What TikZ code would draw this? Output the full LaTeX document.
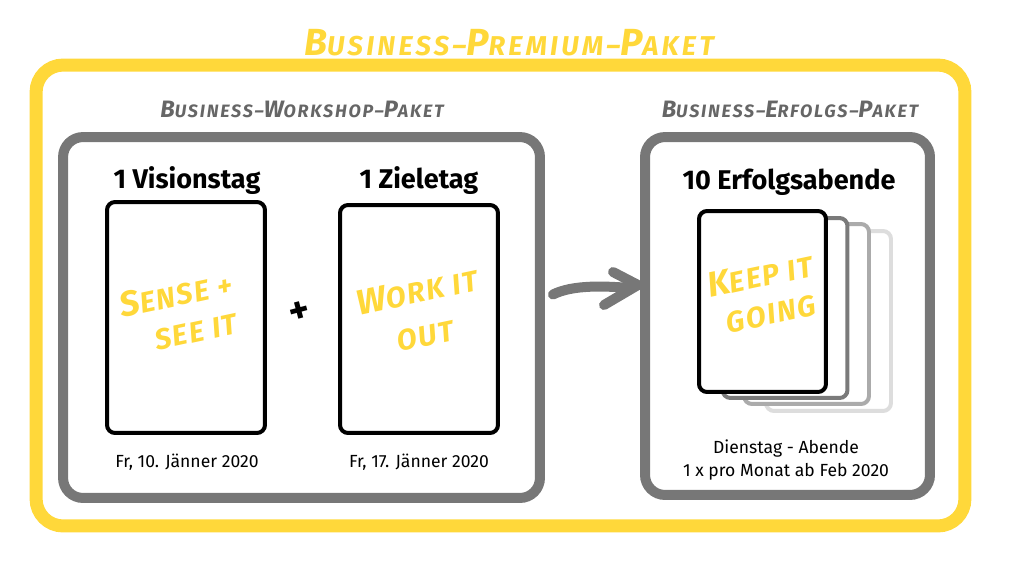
\documentclass[tikz,border=0pt]{standalone}
\usepackage{fontspec}
\setmainfont{Fira Sans}
\usetikzlibrary{calc}
\definecolor{myyellow}{HTML}{FFD83A}
\definecolor{boxgray}{HTML}{777777}
\definecolor{labgray}{HTML}{666666}
\definecolor{stackA}{HTML}{7A7A7A}
\definecolor{stackB}{HTML}{ABABAB}
\definecolor{stackC}{HTML}{DDDDDD}
\def\hwB{20}\def\hwS{14}
\newcommand\hw[2]{{\fontsize{\hwB}{\hwB}\selectfont#1}{\fontsize{\hwS}{\hwS}\selectfont#2}}
\tikzset{
  box/.style={draw, rounded corners=0.4cm, inner sep=0pt, outer sep=0pt},
  outerbox/.style={box, draw=myyellow, line width=0.26cm, rounded corners=0.54cm},
  graybox/.style={box, draw=boxgray, line width=0.2cm},
  card/.style={box, draw=black, fill=white, line width=0.08cm, rounded corners=0.16cm, minimum width=3.16cm},
  stackcard/.style={box, fill=white, line width=0.08cm, rounded corners=0.16cm, minimum width=2.5cm, minimum height=3.6cm},
  head/.style={font=\bfseries\fontsize{15.4}{17}\selectfont, inner sep=0pt},
  small/.style={font=\fontsize{10}{13}\selectfont, inner sep=0pt, align=center},
  title/.style={font=\bfseries\itshape\addfontfeatures{LetterSpace=12}\def\hwB{21.5}\def\hwS{15.5}, text=myyellow, inner sep=0pt},
  seclabel/.style={font=\bfseries\itshape\addfontfeatures{LetterSpace=10}\def\hwB{13.5}\def\hwS{10.2}, text=labgray, inner sep=0pt},
  yell/.style={font=\bfseries\itshape\addfontfeatures{LetterSpace=6}\def\hwB{20}\def\hwS{16.5}, text=myyellow, inner sep=0pt, rotate=12},
  arr/.style={draw=boxgray, line width=0.2cm, line cap=round, line join=round},
}
\begin{document}
\begin{tikzpicture}[x=0.02cm, y=-0.02cm]
\useasboundingbox (0,0) rectangle (1024,576);
% outer premium box
\node[outerbox, minimum width=18.58cm, minimum height=9.22cm] (premium) at (500.5,295.5) {};
\node[title] (ptitle) at (509,43) {\hw{B}{USINESS}\hw{}{--}\hw{P}{REMIUM}\hw{}{--}\hw{P}{AKET}};
% workshop box
\node[graybox, minimum width=9.54cm, minimum height=7.22cm] (ws) at (301.5,317.5) {};
\node[seclabel] (wslabel) at (302,109) {\hw{B}{USINESS}\hw{}{--}\hw{W}{ORKSHOP}\hw{}{--}\hw{P}{AKET}};
% erfolgs box
\node[graybox, minimum width=5.7cm, minimum height=7.16cm] (ep) at (787.5,316) {};
\node[seclabel] (eplabel) at (790,109) {\hw{B}{USINESS}\hw{}{--}\hw{E}{RFOLGS}\hw{}{--}\hw{P}{AKET}};
% cards
\node[head] (h1) at (187,181) {1 Visionstag};
\node[card, minimum height=4.62cm] (c1) at (186,317.5) {};
\node[small] (d1) at (187,462) {Fr, 10. Jänner 2020};
\node[head] (h2) at (419,181) {1 Zieletag};
\node[card, minimum height=4.56cm] (c2) at (419,319) {};
\node[small] (d2) at (419,462) {Fr, 17. Jänner 2020};
\node[font=\bfseries\fontsize{22}{22}\selectfont, inner sep=0pt, rotate=15] (plus) at (300,313) {+};
\node[yell] (t1a) at (176,294) {\hw{S}{ENSE +}};
\node[yell] (t1b) at (196,332) {\hw{}{SEE IT}};
\node[yell] (t2a) at (417,291) {\hw{W}{ORK IT}};
\node[yell] (t2b) at (425,336) {\hw{}{OUT}};
% stack
\node[head] (h3) at (789,182) {10 Erfolgsabende};
\node[stackcard, draw=stackC] (s4) at (828.5,321) {};
\node[stackcard, draw=stackB] (s3) at (806.5,314) {};
\node[stackcard, draw=stackA] (s2) at (785,308) {};
\node[stackcard, draw=black, minimum width=2.54cm, minimum height=3.62cm] (s1) at (762.5,301.5) {};
\node[yell] (t3a) at (760,275) {\hw{K}{EEP IT}};
\node[yell] (t3b) at (771,314) {\hw{}{GOING}};
\node[small] (d3) at (786,460) {Dienstag - Abende\\1 x pro Monat ab Feb 2020};
% arrow
\coordinate (tip) at ([shift={(-7,-31)}]ep.west);
\draw[arr] ([shift={(13,-23)}]ws.east) .. controls +(20,-10) and +(-25,-2) .. ([shift={(-8,3)}]tip);
\draw[arr] ([shift={(-25,-13)}]tip) -- (tip) -- ([shift={(-34,20)}]tip);
\end{tikzpicture}
\end{document}
